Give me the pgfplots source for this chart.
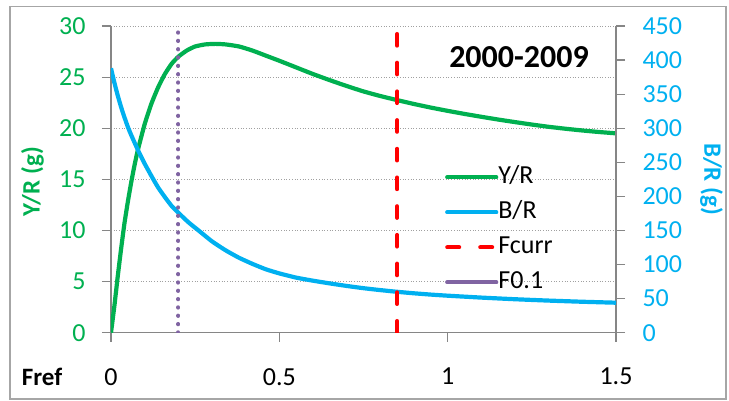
\documentclass[border=0pt]{standalone}
\usepackage{fontspec}
\setmainfont{Carlito}
\usepackage{pgfplots}
\pgfplotsset{compat=1.18}
\definecolor{cgreen}{HTML}{00B050}
\definecolor{cblue}{HTML}{00B0F0}
\definecolor{cred}{HTML}{FF0000}
\definecolor{cpurple}{HTML}{8064A2}
\definecolor{caxis}{HTML}{868686}
\definecolor{cgrid}{HTML}{A0A0A0}
\definecolor{cframe}{HTML}{A6A6A6}
\pgfplotstableread{
x y
0 0
0.01 2.6
0.02 5.5
0.03 8.2
0.04 10.7
0.05 12.8
0.06 14.7
0.07 16.4
0.08 17.9
0.10 20.4
0.12 22.4
0.14 24.0
0.16 25.3
0.18 26.3
0.20 27.0
0.225 27.6
0.25 28.0
0.28 28.2
0.31 28.25
0.34 28.2
0.38 28.0
0.42 27.6
0.46 27.1
0.50 26.6
0.55 25.95
0.60 25.3
0.65 24.7
0.70 24.13
0.75 23.6
0.80 23.15
0.85 22.75
0.90 22.37
0.95 22.02
1.00 21.7
1.05 21.4
1.10 21.12
1.15 20.85
1.20 20.6
1.25 20.36
1.30 20.14
1.35 19.95
1.40 19.78
1.45 19.63
1.50 19.5
}\yrtable
\pgfplotstableread{
x y
0 388
0.01 367
0.02 348
0.03 331
0.04 316
0.05 302
0.06 290
0.08 268
0.10 248
0.12 230
0.14 213
0.16 199
0.18 186
0.20 176
0.23 162
0.26 150
0.30 134
0.34 121
0.38 110
0.42 101
0.46 93
0.50 87
0.55 80.8
0.60 76.3
0.65 72.3
0.70 68.6
0.75 65.3
0.80 62.5
0.85 60
0.90 57.8
0.95 55.9
1.00 54.3
1.10 51.5
1.20 49.1
1.30 47.1
1.40 45.4
1.50 44
}\brtable
\begin{document}
\begin{tikzpicture}
\pgfplotsset{
  common/.style={
    scale only axis, width=505pt, height=306.7pt,
    xmin=0, xmax=1.5,
    /pgf/number format/assume math mode=true,
    tick label style={font=\fontsize{26}{30}\selectfont},
    axis line style={caxis, line width=1.2pt},
    major tick length=9pt,
    tick style={caxis, line width=1.2pt},
    tick align=outside,
  }
}
\useasboundingbox (-111pt,-68.3pt) rectangle (618pt,332.7pt);
\draw[cframe, line width=1.2pt] (-101pt,-66.3pt) rectangle (615pt,326pt);
\begin{axis}[common,
  ymin=0, ymax=30, ytick={0,5,...,30},
  axis y line*=left, axis x line*=bottom,
  xtick={0,0.5,1,1.5},
  xticklabels={0,0.5,1,1.5},
  ymajorgrids,
  grid style={cgrid, line width=0.9pt, dash pattern=on 0.9pt off 1.8pt},
  yticklabel style={cgreen, xshift=-13pt},
  xticklabel style={black, yshift=-23pt},
  ylabel={Y/R (g)},
  ylabel style={at={(axis description cs:-0.1554,0.492)}, anchor=center, cgreen, font=\bfseries\fontsize{25}{30}\selectfont},
  xlabel={Fref},
  xlabel style={at={(axis description cs:-0.1366,-0.1444)}, anchor=center, black, font=\bfseries\fontsize{25}{30}\selectfont},
]
\addplot[cgreen, line width=4.2pt, smooth, tension=0.3] table {\yrtable};
\node[font=\bfseries\fontsize{32}{38}\selectfont] at (axis cs:1.212,26.98) {2000-2009};
\end{axis}
\begin{axis}[common,
  ymin=0, ymax=450, ytick={0,50,...,450},
  axis y line*=right, hide x axis,
  yticklabel style={cblue, xshift=14pt},
  ylabel={B/R (g)},
  ylabel style={at={(axis description cs:1.189,0.501)}, anchor=center, rotate=180, cblue, font=\bfseries\fontsize{25}{30}\selectfont},
  legend image code/.code={\draw[#1, line cap=round] (2pt,0pt) -- (51pt,0pt);},
  legend style={at={(axis cs:0.983,249.5)}, anchor=north west, draw=none, fill=none,
    font=\fontsize{26}{30}\selectfont, row sep=10pt,
    nodes={inner sep=0pt, text height=19pt, text depth=6pt},
    /tikz/every even column/.append style={column sep=10pt}},
  legend cell align=left,
]
\addlegendimage{cgreen, line width=4.2pt}
\addlegendentry{Y/R}
\addplot[cblue, line width=4.2pt, smooth, tension=0.3] table {\brtable};
\addlegendentry{B/R}
\addplot[cred, line width=4pt, line cap=round, dash pattern=on 11.7pt off 17pt, forget plot] coordinates {(0.85,0) (0.85,450)};
\addlegendimage{cred, line width=4pt, dash pattern=on 12pt off 21pt}
\addlegendentry{Fcurr}
\addplot[cpurple, line width=3.8pt, line cap=round, dash pattern=on 0.5pt off 7.83pt, forget plot] coordinates {(0.2,0) (0.2,450)};
\addlegendimage{cpurple, line width=4.2pt}
\addlegendentry{F0.1}
\end{axis}
\end{tikzpicture}
\end{document}
